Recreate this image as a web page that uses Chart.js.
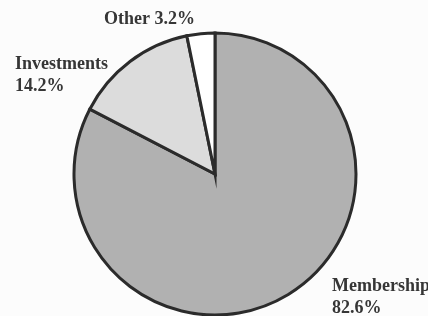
<!DOCTYPE html>
<html>
<head>
<meta charset="utf-8">
<script src="https://cdn.jsdelivr.net/npm/chart.js@4.4.1/dist/chart.umd.min.js"></script>
<style>
  html, body { margin: 0; padding: 0; background: #fcfcfc; }
  #wrap { width: 428px; height: 316px; position: relative; }
</style>
</head>
<body>
<div id="wrap"><canvas id="pie" width="428" height="316"></canvas></div>
<script>
// Revenue sources (percent)
const categories = ['Membership', 'Investments', 'Other'];
const shares = [82.6, 14.2, 3.2];
const fills = ['#b1b1b1', '#dcdcdc', '#ffffff'];

// label placement, in px relative to the pie centre
const labelSpots = {
  Membership: { dx: 117, dy: 117, split: true },
  Investments: { dx: -200, dy: -105, split: true },
  Other: { dx: -111, dy: -150, split: false },
};

const sliceLabels = {
  id: 'sliceLabels',
  afterDraw(chart) {
    const ctx = chart.ctx;
    const arc = chart.getDatasetMeta(0).data[0];
    const cx = arc.x, cy = arc.y;
    ctx.save();
    ctx.font = 'bold 18px "Liberation Serif", serif';
    ctx.fillStyle = '#363636';
    ctx.textAlign = 'left';
    ctx.textBaseline = 'alphabetic';
    categories.forEach((name, i) => {
      const spot = labelSpots[name];
      const pct = shares[i].toFixed(1) + '%';
      const x = cx + spot.dx, y = cy + spot.dy;
      if (spot.split) {
        ctx.fillText(name, x, y);
        ctx.fillText(pct, x, y + 22);
      } else {
        ctx.fillText(name + ' ' + pct, x, y);
      }
    });
    ctx.restore();
  },
};

new Chart(document.getElementById('pie'), {
  type: 'pie',
  data: {
    labels: categories,
    datasets: [{
      data: shares,
      backgroundColor: fills,
      borderColor: '#2b2b2b',
      borderWidth: 3,
      borderJoinStyle: 'miter',
      radius: 141,
    }],
  },
  options: {
    responsive: false,
    animation: false,
    rotation: 0,
    layout: { padding: { left: 2, right: 0, top: 32, bottom: 0 } },
    plugins: {
      legend: { display: false },
      tooltip: { enabled: false },
    },
  },
  plugins: [sliceLabels],
});
</script>
</body>
</html>
